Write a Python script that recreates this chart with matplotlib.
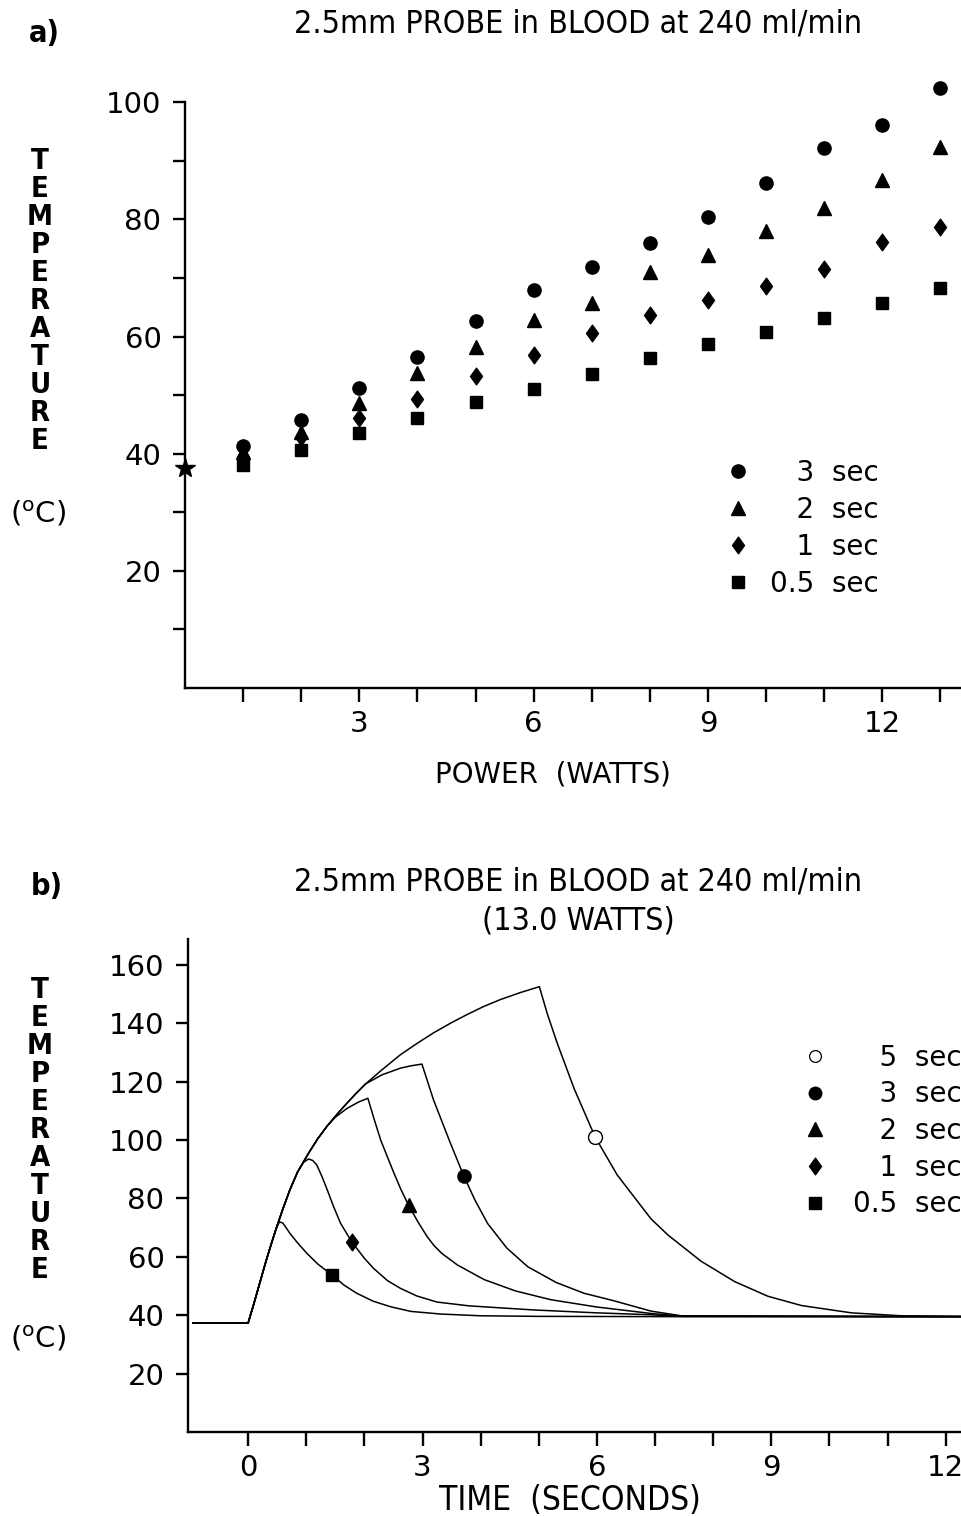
import matplotlib
matplotlib.use("Agg")
import matplotlib.pyplot as plt
from matplotlib import font_manager
from matplotlib.lines import Line2D
from matplotlib.path import Path

# ── panel a: temperature reached vs generator power ──
POWER_W = [1, 2, 3, 4, 5, 6, 7, 8, 9, 10, 11, 12, 13]
TEMP_3S = [41.3, 45.7, 51.2, 56.5, 62.6, 67.9, 71.8, 75.9, 80.4, 86.3, 92.2, 96.1, 102.4]
TEMP_2S = [40.3, 43.7, 48.6, 53.8, 58.2, 62.8, 65.7, 71.0, 73.9, 78.0, 81.9, 86.7, 92.3]
TEMP_1S = [39.4, 42.8, 46.1, 49.3, 53.2, 56.8, 60.6, 63.7, 66.2, 68.6, 71.5, 76.1, 78.7]
TEMP_05S = [38.1, 40.6, 43.5, 46.1, 48.8, 51.0, 53.6, 56.3, 58.7, 60.8, 63.1, 65.7, 68.3]
START_W = [0]
START_C = [37.5]
LABELS_A = ["3 sec", "2 sec", "1 sec", "0.5 sec"]

# ── panel b: temperature vs time at 13.0 W ──
T05_TIME = [-0.95, 0.0, 0.1, 0.2, 0.3, 0.4, 0.48, 0.54, 0.6, 0.66, 0.72, 0.85, 1.01, 1.2,
            1.44, 1.65, 1.87, 2.15, 2.45, 2.8, 3.31, 4.0, 5.0, 7.5, 12.3]
T05_TEMP = [37.3, 37.3, 44.0, 51.0, 58.0, 64.5, 69.5, 72.0, 71.5, 69.8, 68.0, 64.8, 61.2, 57.5,
            53.8, 50.3, 47.5, 44.8, 42.9, 41.3, 40.4, 39.8, 39.6, 39.5, 39.5]

T1_TIME = [-0.95, 0.0, 0.1, 0.2, 0.3, 0.4, 0.48, 0.6, 0.72, 0.85, 0.95, 1.04, 1.11, 1.18, 1.27,
           1.36, 1.47, 1.59, 1.78, 2.0, 2.16, 2.4, 2.62, 2.9, 3.25, 3.8, 4.91, 6.0, 6.87, 7.45, 12.3]
T1_TEMP = [37.3, 37.3, 44.0, 51.0, 58.0, 64.5, 69.5, 76.5, 83.0, 89.0, 92.3, 93.5, 93.0, 91.5, 87.5,
           83.0, 77.2, 71.5, 65.2, 59.5, 56.0, 51.8, 49.2, 46.6, 44.5, 43.2, 41.8, 40.8, 40.2, 39.6, 39.5]

T2_TIME = [-0.95, 0.0, 0.1, 0.2, 0.3, 0.4, 0.48, 0.6, 0.72, 0.85, 1.04, 1.2, 1.36, 1.5, 1.7, 1.9,
           2.06, 2.17, 2.28, 2.4, 2.51, 2.63, 2.76, 2.92, 3.08, 3.2, 3.33, 3.6, 4.06, 4.6, 5.21,
           6.0, 6.93, 7.45, 12.3]
T2_TEMP = [37.3, 37.3, 44.0, 51.0, 58.0, 64.5, 69.5, 76.5, 83.0, 89.0, 95.5, 100.5, 104.8, 107.8,
           110.8, 113.0, 114.3, 107.0, 100.0, 94.0, 88.6, 83.0, 77.7, 72.0, 66.9, 63.8, 61.2, 57.2,
           52.2, 48.3, 45.3, 42.8, 40.6, 39.7, 39.5]

T3_TIME = [-0.95, 0.0, 0.1, 0.2, 0.3, 0.4, 0.48, 0.6, 0.72, 0.85, 1.04, 1.2, 1.36, 1.55, 1.7, 1.85,
           2.02, 2.3, 2.62, 2.8, 2.99, 3.19, 3.48, 3.71, 3.9, 4.12, 4.45, 4.81, 5.3, 5.78, 6.3,
           6.93, 7.45, 12.3]
T3_TEMP = [37.3, 37.3, 44.0, 51.0, 58.0, 64.5, 69.5, 76.5, 83.0, 89.0, 95.5, 100.5, 104.8, 109.3,
           112.6, 115.8, 119.2, 122.3, 124.6, 125.4, 126.0, 113.7, 98.9, 87.7, 79.5, 71.4, 63.0,
           56.6, 51.2, 47.5, 44.9, 41.4, 39.8, 39.5]

T5_TIME = [-0.95, 0.0, 0.1, 0.2, 0.3, 0.4, 0.48, 0.6, 0.72, 0.85, 1.04, 1.2, 1.36, 1.55, 1.7, 1.85,
           2.02, 2.3, 2.62, 2.9, 3.19, 3.5, 3.77, 4.05, 4.34, 4.7, 5.01, 5.15, 5.32, 5.61, 5.97,
           6.35, 6.64, 6.93, 7.22, 7.79, 8.37, 8.94, 9.52, 10.38, 11.24, 12.3]
T5_TEMP = [37.3, 37.3, 44.0, 51.0, 58.0, 64.5, 69.5, 76.5, 83.0, 89.0, 95.5, 100.5, 104.8, 109.3,
           112.6, 115.8, 119.2, 124.0, 129.2, 133.0, 136.7, 140.2, 143.0, 145.7, 148.1, 150.6,
           152.5, 143.0, 133.0, 117.5, 101.0, 88.0, 80.5, 73.0, 67.5, 58.5, 51.5, 46.5, 43.3,
           40.8, 39.8, 39.6]

# one marker on each cooling curve: 5, 3, 2, 1, 0.5 sec
MARK_TIME = [5.97, 3.71, 2.76, 1.78, 1.44]
MARK_TEMP = [101.1, 87.7, 77.7, 65.2, 53.8]
LABELS_B = ["5 sec", "3 sec", "2 sec", "1 sec", "0.5 sec"]

# ── fonts ──
names = {f.name for f in font_manager.fontManager.ttflist}
if "Liberation Sans Narrow" in names:
    NARROW = dict(family="Liberation Sans Narrow")
else:
    NARROW = dict(family="DejaVu Sans", stretch="condensed")
WIDE = dict(family="DejaVu Sans")

# narrow diamond like the original glyph
DIAMOND = Path([(0, 1), (0.72, 0), (0, -1), (-0.72, 0), (0, 1)],
               [Path.MOVETO, Path.LINETO, Path.LINETO, Path.LINETO, Path.CLOSEPOLY])

W, H = 962, 1516
fig = plt.figure(figsize=(W / 100, H / 100), dpi=100)


def style_axes(ax):
    for s in ("top", "right"):
        ax.spines[s].set_visible(False)
    for s in ("left", "bottom"):
        ax.spines[s].set_linewidth(1.7)
    ax.tick_params(direction="out", width=1.7, labelsize=21, colors="black")
    ax.tick_params(axis="x", length=10, pad=6)
    ax.tick_params(axis="y", length=9, pad=8)
    for lab in ax.get_xticklabels() + ax.get_yticklabels():
        lab.set_family("DejaVu Sans")


def pad_label(s):
    # figure / punctuation spaces so the shorter labels line up on the right
    if s.startswith("0.5"):
        return s.replace(" ", "  ")
    return "\u2007\u2008" + s.replace(" ", "  ")


def stacked_ylabel(y_top, y_unit):
    for i, ch in enumerate("TEMPERATURE"):
        fig.text(40 / W, 1 - (y_top + i * 28) / H, ch, ha="center", va="center",
                 fontsize=21, fontweight="bold", **NARROW)
    fig.text(38 / W, 1 - y_unit / H, "($^{\\rm o}$C)", ha="center", va="center",
             fontsize=21, **WIDE)


# ───────────────────────── panel a ─────────────────────────
ax = fig.add_axes([185 / W, 1 - 688 / H, 777 / W, 615 / H])
ax.set_xlim(0, 13.37)
ax.set_ylim(0, 105)
ax.spines["left"].set_bounds(0, 100)
ax.set_xticks(POWER_W)
ax.set_xticklabels([str(v) if v % 3 == 0 else "" for v in POWER_W])
yt = list(range(10, 101, 10))
ax.set_yticks(yt)
ax.set_yticklabels([str(v) if v % 20 == 0 else "" for v in yt])
style_axes(ax)

ax.plot(POWER_W, TEMP_3S, "o", color="black", ms=9.5, clip_on=False)
ax.plot(POWER_W, TEMP_2S, "^", color="black", ms=10.5, clip_on=False)
ax.plot(POWER_W, TEMP_1S, marker=DIAMOND, ls="none", color="black", ms=12, clip_on=False)
ax.plot(POWER_W, TEMP_05S, "s", color="black", ms=8, clip_on=False)
ax.plot(START_W, START_C, "*", color="black", ms=15, clip_on=False, zorder=5)

handles_a = [Line2D([], [], ls="none", marker="o", color="black", ms=9.5),
             Line2D([], [], ls="none", marker="^", color="black", ms=10.5),
             Line2D([], [], ls="none", marker=DIAMOND, color="black", ms=12),
             Line2D([], [], ls="none", marker="s", color="black", ms=8)]
ax.legend(handles_a, [pad_label(s) for s in LABELS_A], loc="upper left",
          bbox_to_anchor=(0.694, 0.373), frameon=False, borderpad=0, borderaxespad=0,
          handlelength=1.0, handletextpad=0.65, labelspacing=0.33,
          prop=dict(family="DejaVu Sans", size=20))

fig.text(578 / W, 1 - 24 / H, "2.5mm PROBE in BLOOD at 240 ml/min", ha="center", va="center",
         fontsize=23, **NARROW)
fig.text(44 / W, 1 - 34 / H, "a)", ha="center", va="center", fontsize=22, fontweight="bold",
         **NARROW)
fig.text(553 / W, 1 - 775 / H, "POWER  (WATTS)", ha="center", va="center", fontsize=20, **WIDE)
stacked_ylabel(161, 514)

# ───────────────────────── panel b ─────────────────────────
bx = fig.add_axes([188 / W, 1 - 1432 / H, 774 / W, 496.4 / H])
bx.set_xlim(-1.034, 12.28)
bx.set_ylim(0, 170)
bx.spines["left"].set_bounds(0, 169)
xt = list(range(0, 13))
bx.set_xticks(xt)
bx.set_xticklabels([str(v) if v % 3 == 0 else "" for v in xt])
bx.set_yticks(range(20, 161, 20))
style_axes(bx)

for tt, cc in [(T05_TIME, T05_TEMP), (T1_TIME, T1_TEMP), (T2_TIME, T2_TEMP),
               (T3_TIME, T3_TEMP), (T5_TIME, T5_TEMP)]:
    bx.plot(tt, cc, color="black", lw=1.1, clip_on=False)

marker_kw = [dict(marker="o", mfc="white", mec="black", mew=1.0, ms=10),
             dict(marker="o", color="black", ms=9.5),
             dict(marker="^", color="black", ms=10),
             dict(marker=DIAMOND, color="black", ms=12),
             dict(marker="s", color="black", ms=8.5)]
for mt, mc, kw in zip(MARK_TIME, MARK_TEMP, marker_kw):
    bx.plot([mt], [mc], ls="none", zorder=4, **kw)

handles_b = [Line2D([], [], ls="none", marker="o", mfc="white", mec="black", mew=0.9, ms=8.5),
             Line2D([], [], ls="none", marker="o", color="black", ms=9),
             Line2D([], [], ls="none", marker="^", color="black", ms=9.5),
             Line2D([], [], ls="none", marker=DIAMOND, color="black", ms=12),
             Line2D([], [], ls="none", marker="s", color="black", ms=8)]
bx.legend(handles_b, [pad_label(s) for s in LABELS_B], loc="upper left",
          bbox_to_anchor=(0.792, 0.782), frameon=False, borderpad=0, borderaxespad=0,
          handlelength=1.0, handletextpad=0.86, labelspacing=0.31,
          prop=dict(family="DejaVu Sans", size=20))

fig.text(578 / W, 1 - 882 / H, "2.5mm PROBE in BLOOD at 240 ml/min", ha="center", va="center",
         fontsize=23, **NARROW)
fig.text(578 / W, 1 - 921 / H, "(13.0 WATTS)", ha="center", va="center", fontsize=23, **NARROW)
fig.text(47 / W, 1 - 887 / H, "b)", ha="center", va="center", fontsize=22, fontweight="bold",
         **NARROW)
fig.text(570 / W, 1 - 1500 / H, "TIME  (SECONDS)", ha="center", va="center", fontsize=24,
         **NARROW)
stacked_ylabel(990, 1339)

fig.savefig("out.png", dpi=100)
